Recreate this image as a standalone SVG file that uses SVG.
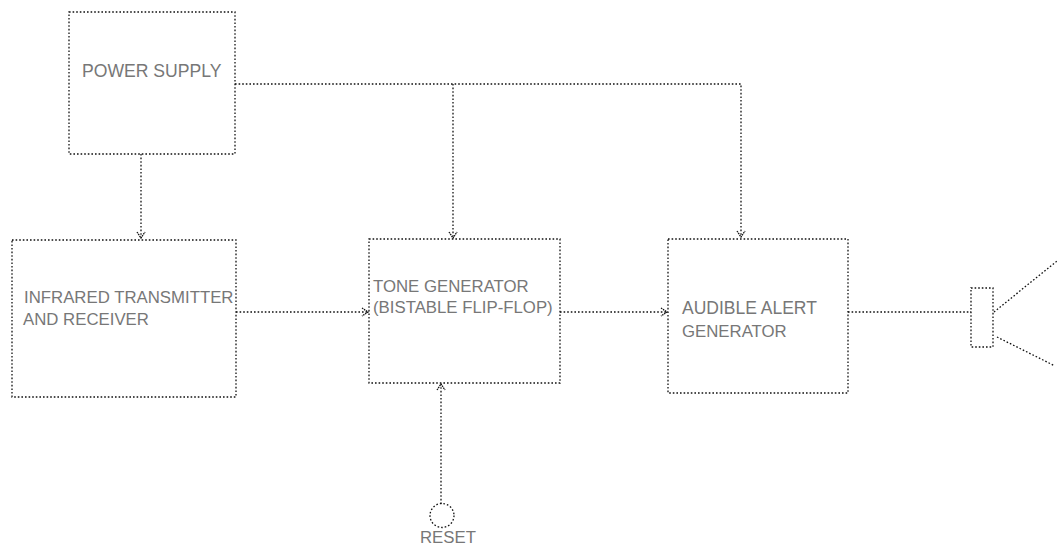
<svg xmlns="http://www.w3.org/2000/svg" width="1057" height="546" viewBox="0 0 1057 546">
<style>
.b,.c{fill:none;stroke:#111;stroke-width:1.3;stroke-dasharray:1.6 2}
.a{fill:none;stroke:#111;stroke-width:1.3;stroke-dasharray:1.5 .8}
text{font-family:"Liberation Sans",Arial,sans-serif;font-size:16.8px;fill:#777}
</style>
<rect width="1057" height="546" fill="#fff"/>
<g id="connectors">
<path class="c" d="M141 154V238"/><path class="a" d="M137 232L141 238L145 232"/>
<path class="c" d="M235 84H741V237"/>
<path class="c" d="M453 84V238"/><path class="a" d="M449 232L453 238L457 232"/><path class="a" d="M737 231L741 237L745 231"/>
<path class="c" d="M236 312H368"/><path class="a" d="M362 308L368 312L362 316"/>
<path class="c" d="M560 312H667"/><path class="a" d="M661 308L667 312L661 316"/>
<path class="c" d="M848 312H971"/>
<path class="c" d="M441 504V384"/><path class="a" d="M437 390L441 384L445 390"/>
<path class="c" d="M994 312L1057 261"/>
<path class="c" d="M997 337L1055 366"/>
</g>
<g id="power-supply"><rect class="b" x="69" y="12" width="166" height="142"/><text x="82" y="77" style="font-size:17.6px">POWER SUPPLY</text></g>
<g id="infrared"><rect class="b" x="12" y="240" width="224" height="157"/><text x="24" y="303">INFRARED TRANSMITTER</text><text x="23" y="325">AND RECEIVER</text></g>
<g id="tone-generator"><rect class="b" x="369" y="239" width="191" height="144"/><text x="373" y="292">TONE GENERATOR</text><text x="373" y="313">(BISTABLE FLIP-FLOP)</text></g>
<g id="audible-alert"><rect class="b" x="668" y="239" width="180" height="154"/><text x="682" y="314" style="font-size:17.5px">AUDIBLE ALERT</text><text x="682" y="337">GENERATOR</text></g>
<g id="speaker"><rect class="b" x="971" y="288" width="22" height="59"/></g>
<g id="reset"><circle class="b" cx="442" cy="515.500" r="12"/><text x="420" y="543">RESET</text></g>
</svg>
